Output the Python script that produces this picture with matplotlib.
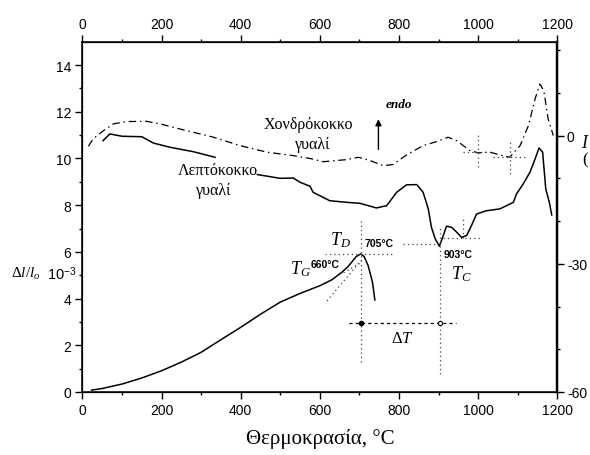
import matplotlib
matplotlib.use("Agg")
import matplotlib.pyplot as plt
import numpy as np

plt.rcParams['font.family'] = ['Liberation Sans', 'DejaVu Sans']
plt.rcParams['mathtext.fontset'] = 'custom'
plt.rcParams['mathtext.rm'] = 'Liberation Serif'
plt.rcParams['mathtext.it'] = 'Liberation Serif:italic'
plt.rcParams['mathtext.sf'] = 'Liberation Sans'
plt.rcParams['axes.unicode_minus'] = False

# dilatometric curve (left axis, dl/l0 x 10^-3)
dil_T = [23, 50, 100, 150, 200, 250, 300, 350, 400, 450, 500, 550, 600, 630,
         655, 670, 680, 692, 703, 712, 722, 733, 739]
dil_y = [0.08, 0.15, 0.34, 0.6, 0.91, 1.28, 1.70, 2.24, 2.77, 3.33, 3.85, 4.22,
         4.55, 4.8, 5.12, 5.35, 5.55, 5.8, 5.91, 5.8, 5.41, 4.7, 3.94]

# DTA, fine grained glass (solid)
fine_T = [52, 69, 100, 150, 179, 221, 280, 335, np.nan, 442, 499, 533, 550, 575,
          583, 625, 668, 701, 743, 769, 794, 819, 845, 861, 874, 882, 891, 902,
          912, 920, 933, 946, 958, 971, 983, 996, 1021, 1055, 1089, 1097, 1114,
          1131, 1144, 1154, 1163, 1171, 1180, 1186]
fine_y = [10.76, 11.05, 10.95, 10.93, 10.66, 10.48, 10.29, 10.05, np.nan, 9.31,
          9.15, 9.16, 8.98, 8.81, 8.55, 8.19, 8.12, 8.08, 7.88, 7.98, 8.55, 8.87,
          8.88, 8.55, 7.84, 7.05, 6.58, 6.24, 6.70, 7.10, 7.05, 6.84, 6.62, 6.70,
          7.12, 7.62, 7.76, 7.84, 8.12, 8.48, 8.91, 9.41, 9.98, 10.45, 10.27,
          8.69, 8.12, 7.58]

# DTA, coarse grained glass (dash-dot)
coarse_T = [15, 27, 53, 78, 112, 162, 196, 263, 331, 398, 466, 533, 575, 609, 668,
            697, 727, 760, 785, 819, 861, 895, 924, 946, 979, 1000, 1030, 1055,
            1080, 1106, 1127, 1144, 1156, 1166, 1177, 1190]
coarse_y = [10.52, 10.84, 11.19, 11.48, 11.58, 11.59, 11.48, 11.19, 10.91, 10.55,
            10.27, 10.12, 10.0, 9.86, 9.95, 10.05, 9.91, 9.69, 9.74, 10.15, 10.55,
            10.72, 10.91, 10.76, 10.34, 10.24, 10.27, 10.15, 10.05, 10.55, 11.4,
            12.55, 13.19, 12.9, 11.69, 10.98]

T_D, T_C = 705, 903

fig = plt.figure(figsize=(5.9, 4.56), dpi=100)
ax = fig.add_axes([0.1398, 0.1382, 0.8047, 0.7682])

ax.plot(dil_T, dil_y, color='black', lw=1.1)
ax.plot(fine_T, fine_y, color='black', lw=1.1)
ax.plot(coarse_T, coarse_y, color='black', lw=0.9, linestyle=(0, (6, 3, 1.2, 3)))

dot = dict(color='#444444', lw=0.9, linestyle=(0, (1, 2.5)))
# construction lines
ax.plot([618, 705], [3.9, 5.65], **dot)
ax.plot([660, 700], [5.1, 5.5], **dot)
ax.plot([613, 790], [5.92, 5.92], **dot)
ax.plot([T_D, T_D], [1.28, 7.4], **dot)
ax.plot([T_C, T_C], [0.77, 7.12], **dot)
ax.plot([810, 898], [6.32, 6.32], **dot)
ax.plot([911, 1005], [6.6, 6.6], **dot)
ax.plot([963, 963], [6.6, 7.55], **dot)
ax.plot([673, 944], [2.94, 2.94], color='black', lw=0.9, linestyle=(0, (2.5, 2.5)))
ax.plot([T_D], [2.94], 'o', color='black', ms=3)
ax.plot([T_C], [2.94], 'o', mfc='white', mec='black', ms=3, mew=0.8)
ax.plot([1000, 1000], [9.63, 11.13], **dot)
ax.plot([962, 1038], [10.27, 10.27], **dot)
ax.plot([1080, 1080], [9.34, 10.76], **dot)
ax.plot([1038, 1118], [10.05, 10.05], **dot)

ax.annotate('', xy=(748, 11.8), xytext=(748, 10.27),
            arrowprops=dict(arrowstyle='-|>', color='black', lw=1.0,
                            mutation_scale=9))
ax.text(766, 12.33, 'endo', family='Liberation Serif', style='italic',
        weight='bold', fontsize=9.5, va='center')

serif = dict(family='Liberation Serif', fontsize=11.5, ha='center', va='center')
ax.text(571, 11.48, 'Χονδρόκοκκο', **serif)
ax.text(583, 10.62, 'γυαλί', **serif)
ax.text(342, 9.5, 'Λεπτόκοκκο', **serif)
ax.text(331, 8.65, 'γυαλί', **serif)

ax.text(652, 6.55, r'$T_D$', fontsize=13, ha='center', va='center')
ax.text(712, 6.38, '705°C', fontsize=7.5, weight='bold', va='center')
ax.text(552, 5.3, r'$T_G$', fontsize=13, ha='center', va='center')
ax.text(576, 5.48, '660°C', fontsize=7.5, weight='bold', va='center')
ax.text(950, 5.9, '903°C', fontsize=7.5, weight='bold', ha='center', va='center')
ax.text(958, 5.1, r'$T_C$', fontsize=13, ha='center', va='center')
ax.text(808, 2.35, r'$\Delta T$', fontsize=12, ha='center', va='center')

ax.set_xlim(0, 1200)
ax.set_ylim(0, 15)
ax.set_xticks(range(0, 1201, 200))
ax.set_xticks(range(100, 1200, 200), minor=True)
ax.set_yticks(range(0, 15, 2))
ax.set_yticks(range(1, 15, 2), minor=True)
ax.tick_params(which='major', length=5, width=1, labelsize=10, pad=3)
ax.tick_params(which='minor', length=2.5, width=1)
ax.set_xlabel('Θερμοκρασία, °C', family='Liberation Serif', fontsize=15, labelpad=8)

ax.text(-0.1505, 5.1, r'$\Delta l/l_o$', transform=ax.get_yaxis_transform(),
        fontsize=11, ha='left', va='center')
ax.text(-0.0747, 5.1, '10$^{\\mathsf{-3}}$', transform=ax.get_yaxis_transform(),
        fontsize=10.5, ha='left', va='center')

axt = ax.twiny()
axt.set_xlim(0, 1200)
axt.set_xticks(range(0, 1201, 200))
axt.set_xticks(range(100, 1200, 200), minor=True)
axt.tick_params(which='major', length=5, width=1, labelsize=10, pad=3)
axt.tick_params(which='minor', length=2.5, width=1)

axr = ax.twinx()
axr.set_ylim(-60, 22)
axr.set_yticks([-60, -30, 0])
axr.set_yticks([-50, -40, -20, -10, 10, 20], minor=True)
axr.tick_params(which='major', length=5, width=1, labelsize=10, pad=2)
axr.tick_params(which='minor', length=2.5, width=1)
axr.spines['right'].set_linewidth(1.6)

for s in ax.spines.values():
    s.set_linewidth(1.1)
ax.spines['right'].set_linewidth(1.6)

fig.text(581 / 590, 1 - 143 / 456, 'I', family='Liberation Serif', style='italic',
         fontsize=13, va='center', ha='left')
fig.text(582 / 590, 1 - 160 / 456, '(', family='Liberation Serif',
         fontsize=12, va='center', ha='left')

fig.savefig('out.png', dpi=100)
